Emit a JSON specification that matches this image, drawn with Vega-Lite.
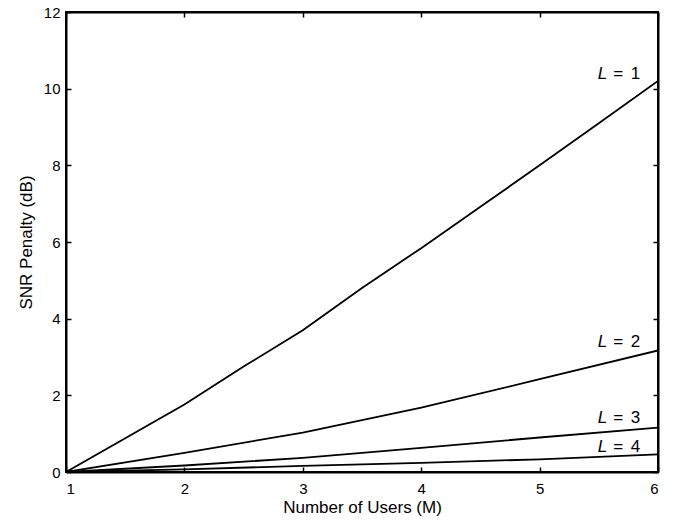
{
  "$schema": "https://vega.github.io/schema/vega-lite/v6.json",
  "width": 592,
  "height": 460,
  "autosize": "none",
  "padding": {"left": 66, "top": 12, "right": 19, "bottom": 53},
  "background": "white",
  "config": {
    "view": {"stroke": "black", "strokeWidth": 2},
    "font": "Liberation Sans",
    "axis": {
      "domainColor": "black", "domainWidth": 2, "tickColor": "black", "tickWidth": 1.5,
      "labelColor": "black", "titleColor": "black", "grid": false,
      "labelFont": "Liberation Sans", "titleFont": "Liberation Sans",
      "labelFontSize": 15, "titleFontSize": 17, "titleFontWeight": "normal"
    }
  },
  "datasets": {
    "curves": [
      {"M": 1, "L": "1", "penalty": 0}, {"M": 2, "L": "1", "penalty": 1.76}, {"M": 2.5, "L": "1", "penalty": 2.75},
      {"M": 3, "L": "1", "penalty": 3.7}, {"M": 3.5, "L": "1", "penalty": 4.8}, {"M": 4, "L": "1", "penalty": 5.84},
      {"M": 4.5, "L": "1", "penalty": 6.92}, {"M": 5, "L": "1", "penalty": 8.0}, {"M": 5.5, "L": "1", "penalty": 9.1},
      {"M": 6, "L": "1", "penalty": 10.2},
      {"M": 1, "L": "2", "penalty": 0}, {"M": 2, "L": "2", "penalty": 0.5}, {"M": 3, "L": "2", "penalty": 1.03},
      {"M": 4, "L": "2", "penalty": 1.68}, {"M": 5, "L": "2", "penalty": 2.42}, {"M": 6, "L": "2", "penalty": 3.17},
      {"M": 1, "L": "3", "penalty": 0}, {"M": 2, "L": "3", "penalty": 0.17}, {"M": 3, "L": "3", "penalty": 0.37},
      {"M": 4, "L": "3", "penalty": 0.63}, {"M": 5, "L": "3", "penalty": 0.9}, {"M": 6, "L": "3", "penalty": 1.16},
      {"M": 1, "L": "4", "penalty": 0}, {"M": 2, "L": "4", "penalty": 0.07}, {"M": 3, "L": "4", "penalty": 0.16},
      {"M": 4, "L": "4", "penalty": 0.24}, {"M": 5, "L": "4", "penalty": 0.33}, {"M": 6, "L": "4", "penalty": 0.46}
    ],
    "labels": [
      {"M": 5.85, "penalty": 10.37, "num": "1"},
      {"M": 5.85, "penalty": 3.39, "num": "2"},
      {"M": 5.85, "penalty": 1.42, "num": "3"},
      {"M": 5.85, "penalty": 0.64, "num": "4"}
    ]
  },
  "resolve": {"axis": {"x": "independent", "y": "independent"}},
  "layer": [
    {
      "data": {"name": "curves"},
      "mark": {"type": "line", "color": "black", "strokeWidth": 1.8, "clip": true},
      "encoding": {
        "x": {"field": "M", "type": "quantitative", "scale": {"domain": [1, 6], "nice": false},
          "axis": {"orient": "bottom", "values": [1, 2, 3, 4, 5, 6], "tickSize": -5, "labelPadding": 14, "title": "Number of Users (M)", "titlePadding": 3}},
        "y": {"field": "penalty", "type": "quantitative", "scale": {"domain": [0, 12], "nice": false},
          "axis": {"orient": "left", "values": [0, 2, 4, 6, 8, 10, 12], "tickSize": -5, "labelPadding": 11, "title": "SNR Penalty (dB)", "titlePadding": 8}},
        "detail": {"field": "L"}
      }
    },
    {
      "data": {"name": "curves"},
      "mark": {"type": "line", "opacity": 0},
      "encoding": {
        "x": {"field": "M", "type": "quantitative",
          "axis": {"orient": "top", "values": [1, 2, 3, 4, 5, 6], "tickSize": -5, "labels": false, "title": null}},
        "y": {"field": "penalty", "type": "quantitative",
          "axis": {"orient": "right", "values": [0, 2, 4, 6, 8, 10, 12], "tickSize": -5, "labels": false, "title": null}},
        "detail": {"field": "L"}
      }
    },
    {
      "data": {"name": "labels"},
      "mark": {"type": "text", "align": "right", "baseline": "middle", "fontSize": 17, "font": "Liberation Sans", "color": "black"},
      "encoding": {
        "x": {"field": "M", "type": "quantitative", "axis": null},
        "y": {"field": "penalty", "type": "quantitative", "axis": null},
        "text": {"field": "num"}
      }
    },
    {
      "data": {"name": "labels"},
      "mark": {"type": "text", "align": "center", "baseline": "middle", "fontSize": 17, "font": "Liberation Sans", "color": "black", "dx": -22},
      "encoding": {
        "x": {"field": "M", "type": "quantitative", "axis": null},
        "y": {"field": "penalty", "type": "quantitative", "axis": null},
        "text": {"value": "="}
      }
    },
    {
      "data": {"name": "labels"},
      "mark": {"type": "text", "align": "right", "baseline": "middle", "fontSize": 17, "font": "Liberation Sans", "fontStyle": "italic", "color": "black", "dx": -33},
      "encoding": {
        "x": {"field": "M", "type": "quantitative", "axis": null},
        "y": {"field": "penalty", "type": "quantitative", "axis": null},
        "text": {"value": "L"}
      }
    }
  ]
}
